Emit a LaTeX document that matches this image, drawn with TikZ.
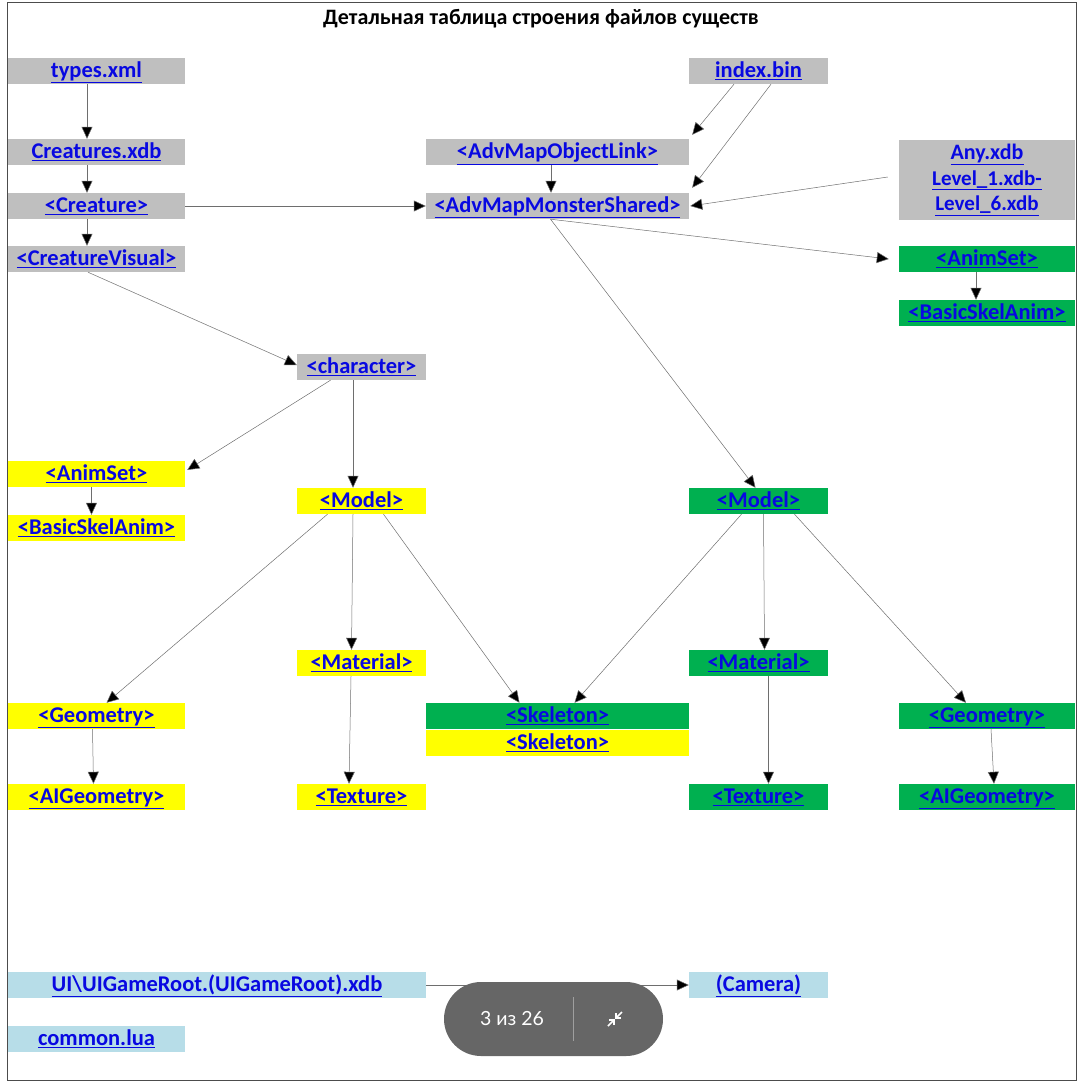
\documentclass[tikz,border=0pt]{standalone}
\usepackage{fontspec}
\setmainfont{Carlito}
\newfontfamily\pagerfont{Lato}
\usepackage{xcolor}
\usetikzlibrary{arrows.meta}
\usetikzlibrary{positioning}

\definecolor{boxgrey}{RGB}{191,191,191}
\definecolor{boxyellow}{RGB}{255,255,0}
\definecolor{boxgreen}{RGB}{0,176,80}
\definecolor{boxblue}{RGB}{183,221,232}
\definecolor{linkblue}{RGB}{8,8,225}
\definecolor{wiregrey}{RGB}{110,110,110}
\definecolor{pagergrey}{RGB}{102,102,102}

\newcommand{\lnk}[1]{\underline{#1}}

\tikzset{
  basecell/.style={minimum height=26pt, inner sep=0pt, text=linkblue,
    font=\fontsize{22.5}{24}\selectfont\bfseries},
  cell/.style={basecell, text height=17pt, text depth=4pt},
  greycell/.style={cell, fill=boxgrey},
  yellowcell/.style={cell, fill=boxyellow},
  greencell/.style={cell, fill=boxgreen},
  bluecell/.style={cell, fill=boxblue},
  wire/.style={draw=wiregrey, line width=0.5pt,
    -{Triangle[length=12pt,width=11pt,fill=black]}},
}

\begin{document}
\begin{tikzpicture}[x=1pt,y=-1pt]
    \useasboundingbox (0,0) rectangle (1083,1083);
    \draw[line width=1pt, black!70] (7.5,3) rectangle (1076,1080);
    \node (title) at (541,19) {\fontsize{22}{24}\selectfont\bfseries Детальная таблица строения файлов существ};

    % grey files and tags
    \node[greycell, minimum width=177pt] (types) at (96.5,71) {\lnk{types.xml}};
    \node[greycell, minimum width=177pt] (creatures) at (96.5,152) {\lnk{Creatures.xdb}};
    \node[greycell, minimum width=177pt] (creature) at (96.5,206) {\lnk{<Creature>}};
    \node[greycell, minimum width=177pt] (cvisual) at (96.5,259) {\lnk{<CreatureVisual>}};
    \node[greycell, minimum width=129pt] (character) at (361.5,367) {\lnk{<character>}};
    \node[greycell, minimum width=139pt] (index) at (758.5,71) {\lnk{index.bin}};
    \node[greycell, minimum width=263pt] (objlink) at (557.5,152) {\lnk{<AdvMapObjectLink>}};
    \node[greycell, minimum width=263pt] (monster) at (557.5,206) {\lnk{<AdvMapMonsterShared>}};
    \node[basecell, fill=boxgrey, minimum width=176pt, minimum height=80pt, align=center,
      font=\fontsize{21}{25.5}\selectfont\bfseries] (anyxdb) at (987,180)
      {\lnk{\fontsize{22}{25.5}\selectfont Any.xdb}\\\lnk{Level\_1.xdb-}\\\lnk{Level\_6.xdb}};

    % yellow branch
    \node[yellowcell, minimum width=177pt] (yanim) at (96.5,474) {\lnk{<AnimSet>}};
    \node[yellowcell, minimum width=177pt] (ybasic) at (96.5,528) {\lnk{<BasicSkelAnim>}};
    \node[yellowcell, minimum width=129pt] (ymodel) at (361.5,501) {\lnk{<Model>}};
    \node[yellowcell, minimum width=129pt] (ymat) at (361.5,663) {\lnk{<Material>}};
    \node[yellowcell, minimum width=129pt] (ytex) at (361.5,797) {\lnk{<Texture>}};
    \node[yellowcell, minimum width=177pt] (ygeom) at (96.5,716) {\lnk{<Geometry>}};
    \node[yellowcell, minimum width=177pt] (yaig) at (96.5,797) {\lnk{<AIGeometry>}};
    \node[yellowcell, minimum width=263pt] (yskel) at (557.5,743) {\lnk{<Skeleton>}};

    % green branch
    \node[greencell, minimum width=263pt] (gskel) at (557.5,716) {\lnk{<Skeleton>}};
    \node[greencell, minimum width=176pt] (ganim) at (987,259) {\lnk{<AnimSet>}};
    \node[greencell, minimum width=176pt] (gbasic) at (987,313) {\lnk{<BasicSkelAnim>}};
    \node[greencell, minimum width=139pt] (gmodel) at (758.5,501) {\lnk{<Model>}};
    \node[greencell, minimum width=139pt] (gmat) at (758.5,663) {\lnk{<Material>}};
    \node[greencell, minimum width=139pt] (gtex) at (758.5,797) {\lnk{<Texture>}};
    \node[greencell, minimum width=176pt] (ggeom) at (987,716) {\lnk{<Geometry>}};
    \node[greencell, minimum width=176pt] (gaig) at (987,797) {\lnk{<AIGeometry>}};

    % interface files
    \node[bluecell, minimum width=418pt] (uiroot) at (217,985) {\lnk{UI\textbackslash UIGameRoot.(UIGameRoot).xdb}};
    \node[bluecell, minimum width=139pt] (camera) at (758.5,985) {\lnk{(Camera)}};
    \node[bluecell, minimum width=177pt] (common) at (96.5,1039) {\lnk{common.lua}};

    % links
    \draw[wire] ([xshift=-9.5pt]types.south) -- ([xshift=-9.5pt]creatures.north);
    \draw[wire] ([xshift=-9.5pt]creatures.south) -- ([xshift=-9.5pt]creature.north);
    \draw[wire] ([xshift=-9.5pt]creature.south) -- ([xshift=-9.5pt]cvisual.north);
    \draw[wire] (creature.east) -- (monster.west);
    \draw[wire] ([xshift=-24.5pt]index.south) -- ([xshift=3pt,yshift=4pt]objlink.north east);
    \draw[wire] ([xshift=12.5pt]index.south) -- ([xshift=3pt,yshift=5pt]monster.north east);
    \draw[wire] ([xshift=-6.5pt]objlink.south) -- ([xshift=-6.5pt]monster.north);
    \draw[wire] ([xshift=-11pt,yshift=3pt]anyxdb.west) -- ([xshift=1pt]monster.east);
    \draw[wire] ([xshift=-7pt]monster.south) -- ([xshift=-10pt]ganim.west);
    \draw[wire] ([xshift=-7pt]monster.south) -- ([xshift=-3pt]gmodel.north);
    \draw[wire] ([xshift=-11pt]ganim.south) -- ([xshift=-11pt]gbasic.north);
    \draw[wire] ([xshift=-8.5pt]cvisual.south) -- ([yshift=2pt]character.west);
    \draw[wire] ([xshift=-31pt]character.south) -- ([xshift=2pt,yshift=4pt]yanim.east);
    \draw[wire] ([xshift=-8.5pt]character.south) -- ([xshift=-8.5pt]ymodel.north);
    \draw[wire] ([xshift=-5pt]yanim.south) -- ([xshift=-5pt]ybasic.north);
    \draw[wire] ([xshift=-34pt]ymodel.south) -- ([xshift=10pt]ygeom.north);
    \draw[wire] ([xshift=-8.5pt]ymodel.south) -- ([xshift=-10pt]ymat.north);
    \draw[wire] ([xshift=22pt]ymodel.south) -- ([xshift=-38pt]gskel.north);
    \draw[wire] ([xshift=-10.5pt]ymat.south) -- ([xshift=-12.5pt]ytex.north);
    \draw[wire] ([xshift=-4pt]ygeom.south) -- ([xshift=-3pt]yaig.north);
    \draw[wire] ([xshift=-17pt]gmodel.south) -- ([xshift=17pt]gskel.north);
    \draw[wire] ([xshift=5pt]gmodel.south) -- ([xshift=6pt]gmat.north);
    \draw[wire] ([xshift=36pt]gmodel.south) -- ([xshift=-21pt]ggeom.north);
    \draw[wire] ([xshift=10pt]gmat.south) -- ([xshift=10pt]gtex.north);
    \draw[wire] ([xshift=4pt]ggeom.south) -- ([xshift=7pt]gaig.north);
    \draw[wire] (uiroot.east) -- (camera.west);

    % page counter overlay
    \node[fill=pagergrey, rounded corners=37pt, minimum width=219pt, minimum height=74pt,
      inner sep=0pt] (pager) at (553.5,1019) {};
    \node[text=white, font=\pagerfont\fontsize{19.5}{21}\selectfont] (pagenum) at (512,1019) {3 из 26};
    \draw[gray!75, line width=0.6pt] ([xshift=19.5pt,yshift=22pt]pager.center) -- ([xshift=19.5pt,yshift=-22pt]pager.center);
    \coordinate (shrink) at (615,1019);
    \draw[white, line width=1.6pt] ([xshift=7pt,yshift=7pt]shrink) -- ([xshift=1pt,yshift=1pt]shrink);
    \draw[white, line width=1.6pt] ([xshift=1pt,yshift=6pt]shrink) -- ([xshift=1pt,yshift=1pt]shrink) -- ([xshift=6pt,yshift=1pt]shrink);
    \draw[white, line width=1.6pt] ([xshift=-7pt,yshift=-7pt]shrink) -- ([xshift=-1pt,yshift=-1pt]shrink);
    \draw[white, line width=1.6pt] ([xshift=-1pt,yshift=-6pt]shrink) -- ([xshift=-1pt,yshift=-1pt]shrink) -- ([xshift=-6pt,yshift=-1pt]shrink);
\end{tikzpicture}
\end{document}
